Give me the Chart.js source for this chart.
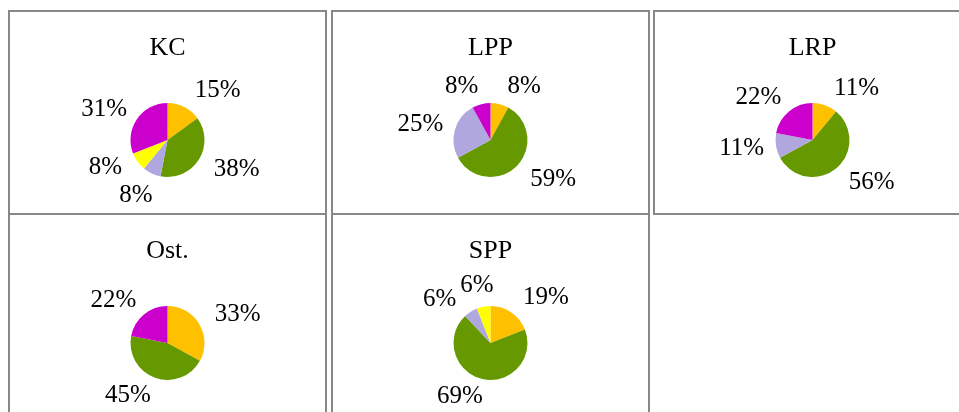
<!DOCTYPE html>
<html>
<head>
<meta charset="utf-8">
<script src="https://cdn.jsdelivr.net/npm/chart.js@4/dist/chart.umd.min.js"></script>
<style>
  html, body { margin: 0; padding: 0; background: #ffffff; }
  body { width: 959px; height: 412px; position: relative; overflow: hidden; }
  .box { position: absolute; width: 319px; height: 205px; border: 2px solid #878787; box-sizing: border-box; background: #fff; }
  .box canvas { display: block; }
</style>
</head>
<body>
<div class="box" style="left:8px;top:10px;"><canvas id="c0" width="315" height="201"></canvas></div>
<div class="box" style="left:331px;top:10px;"><canvas id="c1" width="315" height="201"></canvas></div>
<div class="box" style="left:653px;top:10px;"><canvas id="c2" width="315" height="201"></canvas></div>
<div class="box" style="left:8px;top:213px;"><canvas id="c3" width="315" height="201"></canvas></div>
<div class="box" style="left:331px;top:213px;"><canvas id="c4" width="315" height="201"></canvas></div>
<script>
// ---- data ----
const categories = ['Kategorie 1', 'Kategorie 2', 'Kategorie 3', 'Kategorie 4', 'Kategorie 5'];
const chartTitles = ['KC', 'LPP', 'LRP', 'Ost.', 'SPP'];
const kcValues  = [15, 38, 8, 8, 31];
const lppValues = [8, 59, 25, 0, 8];
const lrpValues = [11, 56, 11, 0, 22];
const ostValues = [33, 45, 0, 0, 22];
const sppValues = [19, 69, 6, 6, 0];
const seriesValues = [kcValues, lppValues, lrpValues, ostValues, sppValues];
const sliceColors = ['#FFC000', '#669900', '#B1A7DF', '#FFFF00', '#CC00CC'];

const FONT = "'Liberation Serif', 'Times New Roman', serif";

const outsideLabels = {
  id: 'outsideLabels',
  afterDatasetsDraw(chart) {
    const ctx = chart.ctx;
    const meta = chart.getDatasetMeta(0);
    const data = chart.data.datasets[0].data;
    ctx.save();
    ctx.font = '25px ' + FONT;
    ctx.fillStyle = '#000';
    ctx.textAlign = 'center';
    ctx.textBaseline = 'middle';
    const h = 25;
    const items = [];
    meta.data.forEach((arc, i) => {
      const v = data[i];
      if (!v) return;
      const p = arc.getProps(['x', 'y', 'startAngle', 'endAngle', 'outerRadius'], true);
      const a = (p.startAngle + p.endAngle) / 2;
      const dx = Math.cos(a), dy = Math.sin(a);
      const txt = v + '%';
      const w = ctx.measureText(txt).width;
      const R = p.outerRadius + 12;
      const extra = dx > 0 ? 5 : 0;
      const ox = (w / 2 + extra) * Math.sign(dx) * Math.min(1, Math.abs(dx) * 4);
      const oy = (h / 2) * dy * 0.5;
      items.push({ txt, w, x: p.x + dx * R + ox, y: p.y + dy * R + oy });
    });
    // simple overlap resolution: push overlapping labels apart
    const pad = 3;
    for (let iter = 0; iter < 40; iter++) {
      let moved = false;
      for (let i = 0; i < items.length; i++) {
        for (let j = i + 1; j < items.length; j++) {
          const A = items[i], B = items[j];
          const vx = B.x - A.x, vy = B.y - A.y;
          const needX = (A.w + B.w) / 2 + pad;
          const needY = h + pad;
          if (Math.abs(vx) < needX && Math.abs(vy) < needY) {
            const len = Math.hypot(vx, vy) || 1;
            const ux = vx / len, uy = vy / len;
            A.x -= ux * 0.5; A.y -= uy * 0.5;
            B.x += ux * 0.5; B.y += uy * 0.5;
            moved = true;
          }
        }
      }
      if (!moved) break;
    }
    items.forEach(it => ctx.fillText(it.txt, it.x, it.y));
    ctx.restore();
  }
};

seriesValues.forEach((vals, k) => {
  new Chart(document.getElementById('c' + k), {
    type: 'pie',
    data: {
      labels: categories,
      datasets: [{
        data: vals,
        backgroundColor: sliceColors,
        borderWidth: 0,
        radius: 37
      }]
    },
    options: {
      responsive: false,
      animation: false,
      events: [],
      layout: { padding: { top: 0, bottom: 6.6, left: 0, right: 0 } },
      plugins: {
        legend: { display: false },
        tooltip: { enabled: false },
        title: {
          display: true,
          text: chartTitles[k],
          color: '#000',
          font: { family: FONT, size: 26, weight: 'normal' },
          padding: { top: 20.4, bottom: 10 }
        }
      }
    },
    plugins: [outsideLabels]
  });
});
</script>
</body>
</html>
